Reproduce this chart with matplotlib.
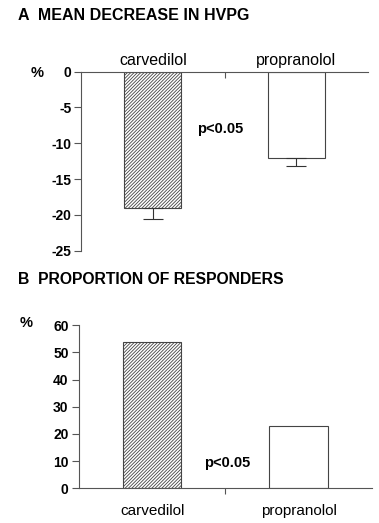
import matplotlib
matplotlib.use("Agg")
import matplotlib.pyplot as plt

plt.rcParams['font.family'] = ['Liberation Sans', 'DejaVu Sans']
plt.rcParams['hatch.linewidth'] = 0.6

drugs = ['carvedilol', 'propranolol']
hvpg_decrease = [-19.0, -12.0]
hvpg_err = [1.6, 1.2]
responders = [54.0, 23.0]
p_text = 'p<0.05'

fig = plt.figure(figsize=(3.79, 5.23), dpi=100)
W, H = 379, 523

def spot(l, r, top, bot):
    return [l / W, 1 - bot / H, (r - l) / W, (bot - top) / H]

x = [0, 1]
axis_col = '#555555'
hatches = ['//////////', '']

# ---- panel A
axA = fig.add_axes(spot(81, 368, 71.7, 250.7))
axA.bar(x, hvpg_decrease, width=0.4, color='white', edgecolor='#444444',
        hatch=hatches, linewidth=0.8)
axA.errorbar(x, hvpg_decrease, yerr=[hvpg_err, [0, 0]], fmt='none',
             ecolor='#333333', elinewidth=0.8, capsize=7, capthick=0.8)
axA.set_xlim(-0.5, 1.5)
axA.set_ylim(-25, 0)
axA.set_yticks([0, -5, -10, -15, -20, -25])
axA.set_yticklabels(['0', '-5', '-10', '-15', '-20', '-25'], fontweight='bold', fontsize=10)
axA.tick_params(axis='y', length=5, width=0.8, pad=2, color=axis_col)
axA.xaxis.tick_top()
axA.set_xticks(x)
axA.set_xticklabels(drugs, fontsize=11.5)
axA.set_xticks([0.5], minor=True)
axA.tick_params(axis='x', which='major', length=0, pad=3)
axA.tick_params(axis='x', which='minor', direction='in', length=4, width=0.8, color=axis_col)
for s in ['bottom', 'right']:
    axA.spines[s].set_visible(False)
for s in ['top', 'left']:
    axA.spines[s].set_linewidth(0.8)
    axA.spines[s].set_color(axis_col)
axA.text(0.47, -8, p_text, fontsize=10.5, fontweight='bold', ha='center', va='center')
fig.text(37 / W, 1 - 73 / H, '%', fontsize=10.5, fontweight='bold', ha='center', va='center')
fig.text(18 / W, 1 - 16 / H, 'A  MEAN DECREASE IN HVPG', fontsize=11.5, fontweight='bold',
         ha='left', va='center')

# ---- panel B
axB = fig.add_axes(spot(79, 371.7, 325.3, 488.3))
axB.bar(x, responders, width=0.4, color='white', edgecolor='#444444',
        hatch=hatches, linewidth=0.8)
axB.set_xlim(-0.5, 1.5)
axB.set_ylim(0, 60)
axB.set_yticks(range(0, 61, 10))
axB.set_yticklabels([str(v) for v in range(0, 61, 10)], fontweight='bold', fontsize=10)
axB.tick_params(axis='y', length=5, width=0.8, pad=2.5, color=axis_col)
axB.set_xticks(x)
axB.set_xticklabels(drugs, fontsize=11)
axB.set_xticks([0.5], minor=True)
axB.tick_params(axis='x', which='major', length=0, pad=11)
axB.tick_params(axis='x', which='minor', direction='out', length=4, width=0.8, color=axis_col)
for s in ['top', 'right']:
    axB.spines[s].set_visible(False)
for s in ['bottom', 'left']:
    axB.spines[s].set_linewidth(0.8)
    axB.spines[s].set_color(axis_col)
axB.text(0.515, 9.3, p_text, fontsize=10.5, fontweight='bold', ha='center', va='center')
fig.text(26 / W, 1 - 323 / H, '%', fontsize=10.5, fontweight='bold', ha='center', va='center')
fig.text(18 / W, 1 - 280 / H, 'B  PROPORTION OF RESPONDERS', fontsize=11.3, fontweight='bold',
         ha='left', va='center')

fig.savefig('out.png', dpi=100)
